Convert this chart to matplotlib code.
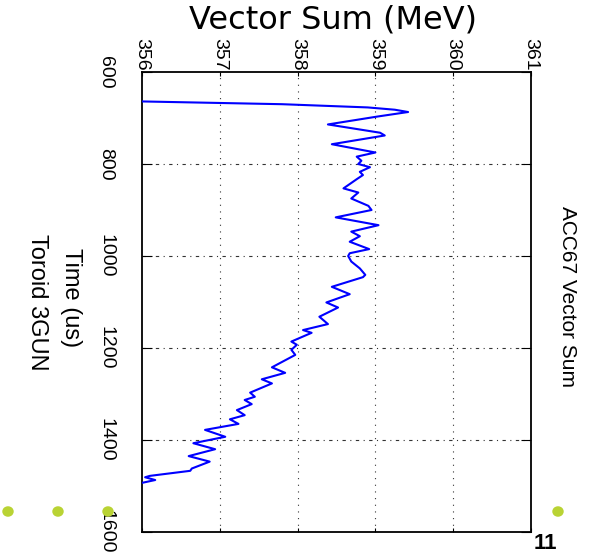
import matplotlib
matplotlib.use("Agg")
import matplotlib.pyplot as plt
from matplotlib.font_manager import FontProperties

# ---------------- data ----------------
time_us = [660, 664, 670, 677, 682, 687, 697, 714, 732, 738, 757, 775, 784, 793, 800,
           807, 817, 824, 833, 853, 862, 875, 891, 900, 916, 933, 947, 957, 969, 985,
           994, 1000, 1012, 1027, 1041, 1046, 1067, 1083, 1101, 1112, 1132, 1148, 1161,
           1167, 1175, 1186, 1193, 1204, 1215, 1242, 1254, 1268, 1277, 1297, 1306, 1313,
           1322, 1335, 1346, 1355, 1365, 1378, 1393, 1407, 1420, 1435, 1447, 1462, 1467,
           1478, 1481, 1487, 1495]
vector_sum_mev = [350.0, 356.00, 357.80, 358.90, 359.25, 359.42, 359.02, 358.39, 359.06,
                  359.12, 358.44, 359.00, 358.76, 358.82, 358.78, 358.93, 358.80, 358.84,
                  358.76, 358.59, 358.78, 358.69, 358.91, 358.95, 358.49, 359.04, 358.69,
                  358.80, 358.67, 358.92, 358.67, 358.65, 358.69, 358.80, 358.87, 358.84,
                  358.44, 358.67, 358.37, 358.52, 358.28, 358.39, 358.07, 358.18, 358.07,
                  357.92, 357.99, 357.92, 357.97, 357.67, 357.84, 357.54, 357.67, 357.39,
                  357.45, 357.32, 357.41, 357.22, 357.32, 357.13, 357.24, 356.81, 357.07,
                  356.66, 356.94, 356.60, 356.87, 356.64, 356.62, 356.10, 356.04, 356.17,
                  355.95]
x_ticks = [356, 357, 358, 359, 360, 361]
y_ticks = [600, 800, 1000, 1200, 1400, 1600]
title = "ACC67 Vector Sum"
x_label = "Vector Sum (MeV)"
y_label_lines = ["Time (us)", "Toroid 3GUN"]
page_number = "11"

rot_fp = FontProperties(family="Liberation Sans")

W, H = 602, 553
fig = plt.figure(figsize=(W / 100, H / 100), dpi=100)
fig.patch.set_facecolor("white")

def fx(px):
    return px / W

def fy(py):
    return 1 - py / H

# slide decoration dots
for px in [8, 58, 108, 558, 608]:
    fig.patches.append(plt.Circle((fx(px), fy(511.5)), 0.0095, transform=fig.transFigure,
                                  facecolor="#b9d334", edgecolor="none", zorder=0))

left, right, top, bottom = 142, 531, 72, 532
ax = fig.add_axes([fx(left), fy(bottom), (right - left) / W, (bottom - top) / H])
ax.set_facecolor("white")
ax.plot(vector_sum_mev, time_us, color="#0000ff", lw=1.5, zorder=3)
ax.set_xlim(356, 361)
ax.set_ylim(1600, 600)
ax.set_xticks(x_ticks)
ax.set_yticks(y_ticks)
ax.xaxis.tick_top()
ax.tick_params(axis="x", which="both", top=True, bottom=True, direction="in", length=3,
               width=0.8, pad=1)
ax.tick_params(axis="y", which="both", left=True, right=True, direction="in", length=7,
               width=0.8, pad=20)

tick_fp = rot_fp.copy()
tick_fp.set_size(14)
ax.set_xticklabels([str(v) for v in x_ticks], rotation=270, fontproperties=tick_fp,
                   va="bottom", ha="center")
ax.set_yticklabels([str(v) for v in y_ticks], rotation=270, fontproperties=tick_fp,
                   va="center", ha="right")
for v in x_ticks[1:-1]:
    ax.axvline(v, color="#333333", lw=0.8, ls=(0, (1, 5)), zorder=1)
for v in y_ticks[1:-1]:
    ax.axhline(v, color="#333333", lw=0.8, ls=(0, (3, 4, 1, 4)), zorder=1)
for s in ax.spines.values():
    s.set_linewidth(1.3)
    s.set_color("black")

fig.text(fx(333), fy(20), x_label, fontsize=23, family="DejaVu Sans", ha="center", va="center")

fig.text(fx(568), fy(296), title, fontproperties=rot_fp, rotation=270,
         ha="center", va="center", fontsize=15)

fig.text(fx(71), fy(298), y_label_lines[0], fontproperties=rot_fp, rotation=270,
         ha="center", va="center", fontsize=17)
fig.text(fx(37), fy(302), y_label_lines[1], fontproperties=rot_fp, rotation=270,
         ha="center", va="center", fontsize=17)

fig.text(fx(545), fy(549), page_number, fontsize=16, family="Liberation Sans",
         weight="bold", ha="center", va="baseline")

fig.savefig("out.png", dpi=100, facecolor="white")
